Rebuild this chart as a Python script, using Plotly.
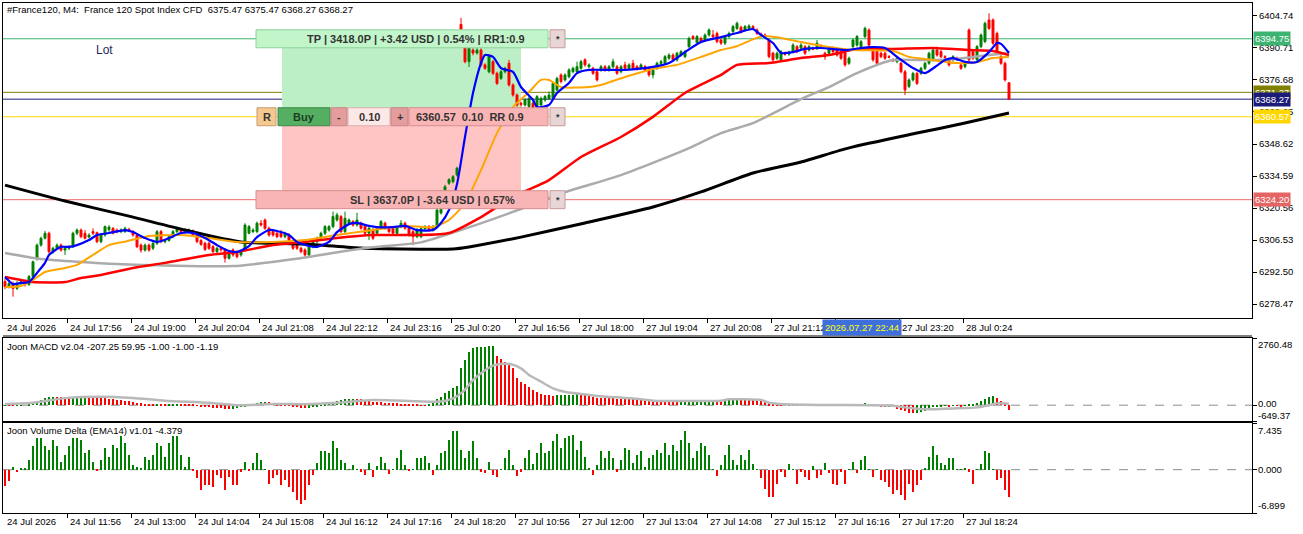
import plotly.graph_objects as go

# ---------------- candles, oldest first (M4) ----------------
opens = [
    6288.3, 6286.1, 6287.5, 6285.3, 6287.5, 6288.3, 6287.0, 6290.5, 6298.5, 6304.3,
    6307.3, 6309.5, 6301.4, 6302.9, 6304.3, 6302.1, 6302.9, 6303.6, 6309.5, 6310.9,
    6309.5, 6307.8, 6310.2, 6309.7, 6305.8, 6308.7, 6311.0, 6311.6, 6310.9, 6310.2,
    6310.2, 6311.2, 6310.2, 6308.7, 6304.3, 6302.1, 6304.3, 6302.9, 6305.1, 6310.2,
    6305.8, 6306.3, 6308.0, 6310.2, 6311.2, 6310.2, 6310.6, 6310.6, 6308.7, 6306.3,
    6305.1, 6305.1, 6303.6, 6301.4, 6302.9, 6302.2, 6298.5, 6302.2, 6300.7, 6300.0,
    6302.2, 6309.5, 6310.2, 6310.2, 6313.9, 6315.3, 6311.7, 6310.2, 6309.5, 6309.5,
    6308.0, 6308.7, 6305.1, 6304.3, 6302.9, 6302.2, 6300.0, 6303.6, 6305.8, 6307.3,
    6309.5, 6310.9, 6312.4, 6315.3, 6316.8, 6310.2, 6313.9, 6314.6, 6313.1, 6313.9,
    6312.4, 6309.5, 6310.9, 6309.5, 6311.7, 6313.9, 6311.7, 6311.7, 6309.5, 6312.4,
    6313.9, 6311.7, 6310.2, 6308.0, 6308.0, 6311.5, 6312.4, 6310.9, 6312.2, 6318.4,
    6328.5, 6331.4, 6332.1, 6335.0, 6401.0, 6390.6, 6384.7, 6389.8, 6388.5, 6389.8,
    6383.3, 6380.3, 6384.7, 6379.6, 6377.4, 6380.3, 6384.0, 6374.5, 6370.1, 6366.5,
    6365.7, 6365.0, 6366.5, 6365.0, 6365.7, 6367.9, 6368.6, 6368.6, 6372.3, 6378.9,
    6376.7, 6378.1, 6380.3, 6380.3, 6381.8, 6385.5, 6382.5, 6381.8, 6380.3, 6381.1,
    6382.5, 6381.1, 6382.5, 6382.5, 6380.3, 6383.3, 6381.8, 6384.0, 6382.5, 6381.8,
    6382.5, 6381.8, 6378.9, 6381.8, 6384.0, 6384.0, 6386.2, 6387.6, 6385.5, 6387.6,
    6386.9, 6391.3, 6395.7, 6393.0, 6394.9, 6394.2, 6396.4, 6396.4, 6397.1, 6394.2,
    6392.8, 6395.7, 6397.9, 6399.3, 6399.8, 6398.6, 6399.3, 6400.1, 6398.6, 6396.8,
    6396.4, 6394.2, 6388.4, 6386.2, 6385.5, 6388.4, 6388.0, 6389.1, 6391.3, 6390.6,
    6391.3, 6389.8, 6390.6, 6390.6, 6391.6, 6388.4, 6388.4, 6390.6, 6389.8, 6389.1,
    6389.8, 6384.0, 6391.3, 6392.0, 6391.3, 6395.7, 6398.6, 6389.8, 6389.8, 6388.4,
    6388.4, 6386.9, 6385.5, 6384.7, 6384.0, 6380.3, 6373.8, 6376.7, 6379.6, 6379.6,
    6381.8, 6384.0, 6385.5, 6389.8, 6389.1, 6386.9, 6385.5, 6385.5, 6386.2, 6383.3,
    6382.5, 6398.6, 6389.1, 6385.5, 6391.3, 6393.5, 6403.0, 6403.0, 6397.1, 6386.9,
    6384.0, 6375.47,
]
highs = [
    6289.5, 6288.5, 6288.3, 6288.5, 6289.5, 6289.0, 6291.2, 6297.5, 6305.0, 6308.0,
    6310.5, 6310.2, 6303.6, 6305.0, 6305.0, 6303.6, 6304.3, 6310.2, 6311.6, 6311.6,
    6310.9, 6309.5, 6311.6, 6310.2, 6309.5, 6312.9, 6313.0, 6312.2, 6311.6, 6311.6,
    6312.4, 6311.9, 6310.9, 6309.0, 6305.0, 6305.0, 6305.0, 6305.8, 6310.9, 6310.9,
    6307.0, 6308.7, 6310.9, 6312.4, 6311.9, 6311.6, 6311.6, 6311.2, 6309.0, 6307.0,
    6305.8, 6305.8, 6304.3, 6303.6, 6303.6, 6302.9, 6302.2, 6302.9, 6301.4, 6302.2,
    6313.9, 6313.1, 6311.7, 6314.6, 6315.3, 6316.0, 6312.4, 6310.9, 6310.2, 6310.9,
    6310.2, 6309.5, 6305.8, 6305.1, 6303.6, 6302.9, 6304.3, 6306.5, 6308.0, 6310.2,
    6313.1, 6313.1, 6319.0, 6318.5, 6317.5, 6319.0, 6316.0, 6315.3, 6318.5, 6314.6,
    6313.1, 6312.4, 6311.7, 6312.4, 6315.3, 6314.6, 6312.4, 6312.4, 6312.8, 6315.3,
    6314.6, 6312.4, 6310.9, 6311.7, 6312.4, 6313.1, 6313.1, 6313.1, 6320.4, 6321.0,
    6330.7, 6333.6, 6335.0, 6338.7, 6403.9, 6391.3, 6391.3, 6390.6, 6390.6, 6390.6,
    6384.0, 6387.6, 6385.5, 6380.3, 6381.1, 6382.5, 6385.5, 6375.2, 6370.8, 6367.2,
    6368.6, 6369.4, 6367.2, 6370.1, 6369.4, 6370.1, 6371.6, 6375.9, 6378.1, 6379.6,
    6379.6, 6381.8, 6382.5, 6384.7, 6385.5, 6386.2, 6384.0, 6382.5, 6381.1, 6383.3,
    6383.3, 6383.3, 6386.0, 6383.3, 6383.3, 6384.7, 6384.0, 6385.5, 6383.3, 6384.0,
    6383.3, 6382.5, 6381.8, 6384.7, 6385.5, 6387.6, 6388.4, 6388.4, 6389.1, 6389.8,
    6389.8, 6395.7, 6396.4, 6396.4, 6395.7, 6397.1, 6399.3, 6398.6, 6397.9, 6394.9,
    6396.4, 6397.9, 6400.8, 6402.3, 6400.5, 6400.8, 6401.1, 6400.8, 6399.3, 6397.5,
    6397.1, 6394.9, 6389.1, 6389.1, 6389.8, 6389.1, 6389.5, 6392.8, 6392.0, 6392.8,
    6392.0, 6392.0, 6391.3, 6394.2, 6392.3, 6389.1, 6391.3, 6391.3, 6390.6, 6389.8,
    6390.6, 6386.9, 6394.9, 6396.4, 6394.2, 6400.1, 6399.3, 6390.6, 6390.6, 6389.1,
    6389.1, 6387.6, 6386.2, 6386.9, 6384.7, 6381.1, 6377.4, 6380.3, 6380.3, 6382.5,
    6384.7, 6389.1, 6390.6, 6391.3, 6389.8, 6387.6, 6386.2, 6387.6, 6386.9, 6384.0,
    6384.7, 6399.3, 6389.8, 6392.0, 6397.1, 6402.3, 6405.9, 6403.7, 6397.9, 6387.6,
    6384.7, 6375.47,
]
lows = [
    6285.0, 6285.3, 6281.7, 6284.6, 6286.8, 6286.1, 6286.5, 6290.0, 6297.5, 6303.6,
    6306.8, 6300.7, 6300.5, 6302.4, 6301.4, 6300.0, 6302.1, 6303.0, 6308.7, 6307.3,
    6306.8, 6307.3, 6308.7, 6305.1, 6305.1, 6308.0, 6310.2, 6309.0, 6309.5, 6309.5,
    6309.7, 6310.0, 6308.0, 6303.0, 6301.0, 6301.4, 6301.4, 6302.1, 6304.3, 6305.1,
    6305.1, 6305.8, 6307.3, 6309.5, 6309.5, 6309.5, 6310.0, 6308.0, 6305.1, 6304.0,
    6301.7, 6302.2, 6300.7, 6300.7, 6301.4, 6296.6, 6298.0, 6299.2, 6298.5, 6299.2,
    6301.4, 6309.0, 6309.5, 6309.5, 6312.4, 6311.0, 6308.0, 6308.0, 6307.3, 6307.3,
    6307.3, 6305.8, 6302.2, 6302.2, 6300.7, 6299.2, 6299.2, 6302.9, 6305.1, 6306.5,
    6308.7, 6310.2, 6311.7, 6314.6, 6309.5, 6309.5, 6313.1, 6312.4, 6312.4, 6311.0,
    6308.7, 6306.5, 6306.5, 6308.7, 6311.0, 6311.0, 6309.5, 6308.7, 6308.7, 6311.7,
    6311.0, 6308.0, 6304.3, 6307.3, 6307.3, 6310.9, 6310.2, 6310.2, 6311.7, 6317.7,
    6327.8, 6330.7, 6331.4, 6334.3, 6397.8, 6384.0, 6382.4, 6387.5, 6387.8, 6382.5,
    6381.1, 6379.6, 6378.9, 6374.5, 6376.7, 6379.6, 6373.8, 6369.4, 6365.0, 6365.0,
    6365.0, 6364.3, 6363.6, 6364.3, 6365.0, 6367.2, 6367.9, 6367.9, 6371.6, 6375.2,
    6376.0, 6377.4, 6379.6, 6379.6, 6381.1, 6382.5, 6381.8, 6378.9, 6376.0, 6380.3,
    6380.3, 6380.3, 6381.8, 6378.9, 6379.6, 6381.1, 6381.1, 6381.1, 6380.8, 6381.1,
    6380.3, 6378.1, 6377.4, 6381.1, 6383.3, 6383.3, 6385.5, 6384.7, 6384.7, 6386.9,
    6386.2, 6390.6, 6394.2, 6392.8, 6392.8, 6393.5, 6395.7, 6394.9, 6392.8, 6392.0,
    6392.0, 6394.9, 6397.1, 6398.6, 6397.1, 6397.9, 6398.6, 6398.6, 6396.4, 6395.7,
    6395.3, 6386.2, 6384.7, 6385.5, 6384.7, 6387.3, 6387.3, 6388.4, 6388.4, 6389.8,
    6387.6, 6389.1, 6389.8, 6389.8, 6390.2, 6385.5, 6387.6, 6388.4, 6386.9, 6385.5,
    6382.5, 6383.3, 6390.6, 6391.3, 6390.6, 6394.9, 6391.3, 6384.7, 6383.3, 6386.2,
    6385.5, 6386.2, 6384.7, 6384.0, 6379.6, 6370.1, 6373.1, 6376.0, 6374.5, 6378.9,
    6381.1, 6383.3, 6384.7, 6386.9, 6386.2, 6385.8, 6382.5, 6384.7, 6385.1, 6381.1,
    6381.8, 6384.7, 6385.5, 6384.7, 6390.6, 6392.8, 6398.6, 6392.0, 6387.6, 6383.3,
    6376.0, 6368.27,
]
closes = [
    6286.1, 6287.5, 6285.3, 6287.5, 6288.3, 6287.0, 6290.5, 6297.0, 6304.3, 6307.3,
    6309.5, 6301.4, 6302.9, 6304.3, 6302.1, 6302.9, 6303.6, 6309.5, 6310.9, 6308.0,
    6307.3, 6308.7, 6309.5, 6305.8, 6308.7, 6312.4, 6312.2, 6309.5, 6310.2, 6310.9,
    6311.6, 6310.6, 6308.7, 6303.6, 6302.1, 6304.3, 6302.1, 6305.1, 6310.2, 6305.8,
    6306.3, 6308.0, 6310.2, 6311.6, 6310.2, 6310.9, 6310.9, 6308.7, 6305.8, 6304.6,
    6302.4, 6302.9, 6301.4, 6302.9, 6302.2, 6298.5, 6301.4, 6300.0, 6299.2, 6301.4,
    6313.1, 6312.4, 6310.9, 6313.9, 6313.1, 6311.7, 6308.7, 6308.7, 6308.0, 6308.0,
    6309.5, 6306.5, 6302.9, 6302.9, 6301.4, 6300.0, 6303.6, 6305.8, 6307.3, 6309.5,
    6312.4, 6312.4, 6316.8, 6317.5, 6310.2, 6316.0, 6315.3, 6313.1, 6315.3, 6311.7,
    6309.5, 6311.7, 6307.3, 6311.7, 6314.6, 6311.7, 6310.2, 6309.5, 6312.1, 6313.9,
    6311.7, 6308.7, 6308.0, 6310.9, 6311.5, 6312.4, 6310.9, 6312.2, 6319.7, 6320.0,
    6329.9, 6333.0, 6334.3, 6338.0, 6398.6, 6384.7, 6390.6, 6388.5, 6389.8, 6383.3,
    6381.8, 6386.9, 6379.6, 6375.2, 6380.3, 6381.8, 6374.5, 6370.1, 6365.7, 6366.0,
    6367.9, 6368.6, 6364.3, 6369.4, 6368.6, 6369.4, 6370.1, 6375.2, 6377.4, 6376.0,
    6378.9, 6381.1, 6381.8, 6382.5, 6384.7, 6383.3, 6383.3, 6379.6, 6376.7, 6382.5,
    6381.1, 6382.5, 6384.7, 6379.6, 6382.5, 6381.8, 6383.3, 6381.8, 6381.4, 6383.3,
    6381.0, 6378.9, 6381.1, 6384.0, 6384.7, 6386.9, 6387.6, 6385.5, 6388.4, 6389.1,
    6389.1, 6394.9, 6394.9, 6395.7, 6393.5, 6396.4, 6398.6, 6395.7, 6393.5, 6392.8,
    6395.7, 6397.1, 6400.1, 6401.5, 6397.9, 6400.1, 6400.4, 6399.3, 6397.1, 6396.4,
    6396.0, 6386.9, 6385.5, 6388.4, 6389.1, 6388.0, 6388.8, 6392.0, 6389.1, 6392.0,
    6388.4, 6391.3, 6390.2, 6392.8, 6391.0, 6386.9, 6390.6, 6389.1, 6387.6, 6386.2,
    6383.3, 6386.2, 6394.2, 6395.7, 6393.5, 6399.3, 6392.0, 6385.5, 6384.0, 6386.9,
    6386.2, 6386.6, 6385.1, 6386.2, 6380.3, 6372.3, 6376.7, 6379.6, 6375.2, 6381.8,
    6384.0, 6388.4, 6389.8, 6387.6, 6386.9, 6386.5, 6383.3, 6386.9, 6385.8, 6381.8,
    6384.0, 6385.5, 6386.2, 6391.3, 6396.4, 6401.5, 6399.3, 6392.8, 6388.4, 6384.0,
    6376.7, 6368.27,
]

# ---------------- moving averages, read at knot bars ----------------
ma_fast_bars = [0, 2, 4, 6, 8, 10, 11, 14, 16, 18, 21, 23, 26, 30, 32, 35, 38, 41, 44, 47,
                50, 53, 56, 58, 61, 63, 66, 68, 71, 73, 76, 78, 81, 83, 86, 88, 91, 93, 97, 100,
                103, 107, 109, 111, 113, 115, 117, 119, 120, 122, 124, 127, 129, 132, 133, 136,
                138, 141, 143, 146, 151, 155, 162, 166, 170, 174, 179, 183, 187, 189, 192, 194,
                197, 200, 204, 210, 216, 220, 223, 227, 230, 233, 235, 237, 240, 243, 246, 248,
                249, 251]
ma_fast = [6290.3, 6287.2, 6287.7, 6288.1, 6292.1, 6296.5, 6300.0, 6303.5, 6303.5, 6304.3,
           6306.5, 6308.7, 6309.6, 6310.9, 6310.0, 6307.4, 6305.7, 6307.4, 6309.6, 6309.6,
           6307.4, 6304.3, 6301.7, 6301.3, 6303.9, 6307.8, 6310.9, 6310.5, 6308.7, 6305.7,
           6303.9, 6303.5, 6305.7, 6310.0, 6313.5, 6314.0, 6312.7, 6312.2, 6312.2, 6312.7,
           6310.9, 6310.9, 6314.0, 6319.7, 6331.0, 6351.7, 6371.0, 6384.1, 6387.6, 6386.8,
           6381.9, 6380.2, 6373.6, 6367.9, 6364.8, 6365.7, 6371.0, 6375.4, 6379.7, 6381.1,
           6381.1, 6381.1, 6382.4, 6384.1, 6388.9, 6393.3, 6395.5, 6397.3, 6399.0, 6396.4,
           6392.9, 6388.5, 6388.9, 6390.3, 6390.7, 6389.8, 6391.1, 6390.7, 6386.8, 6381.9,
           6379.7, 6383.0, 6385.4, 6386.3, 6384.6, 6384.6, 6388.9, 6392.9, 6392.5, 6388.5]

ma_mid_bars = [0, 4, 7, 10, 15, 18, 22, 26, 30, 36, 44, 51, 58, 67, 75, 83, 92, 100, 107, 111,
               115, 119, 123, 127, 131, 134, 136, 139, 146, 149, 155, 162, 168, 174, 179, 183,
               187, 190, 194, 199, 206, 212, 222, 226, 230, 238, 243, 247, 251]
ma_mid = [6285.9, 6286.4, 6289.0, 6292.5, 6294.3, 6295.6, 6300.0, 6304.3, 6305.8, 6308.3,
          6308.7, 6307.4, 6305.7, 6305.7, 6306.5, 6308.7, 6310.9, 6312.7, 6312.2, 6315.3,
          6322.8, 6337.2, 6353.4, 6364.8, 6371.4, 6376.7, 6376.7, 6373.6, 6373.6, 6374.5,
          6378.0, 6381.5, 6383.3, 6386.8, 6389.8, 6391.5, 6394.5, 6396.0, 6395.1, 6393.3,
          6391.1, 6389.8, 6389.4, 6386.8, 6385.9, 6384.1, 6384.6, 6386.3, 6386.8]

ma_slow_bars = [0, 4, 7, 15, 19, 24, 32, 40, 51, 58, 67, 75, 83, 92, 103, 111, 119, 127, 136,
                144, 154, 162, 170, 179, 183, 191, 199, 206, 213, 222, 232, 241, 247, 251]
ma_slow = [6290.3, 6289.0, 6288.1, 6288.1, 6289.9, 6291.2, 6294.3, 6296.5, 6300.0, 6301.3,
           6304.3, 6305.7, 6307.4, 6308.7, 6308.7, 6309.6, 6316.6, 6325.4, 6332.8, 6342.9,
           6351.7, 6360.5, 6371.0, 6378.9, 6383.3, 6384.1, 6386.3, 6387.6, 6390.3, 6390.3,
           6390.7, 6389.8, 6389.4, 6387.6]

ma_long_bars = [0, 9, 28, 57, 74, 90, 104, 115, 128, 140, 154, 170, 179, 187, 199, 206, 213,
                222, 230, 238, 246, 251]
ma_long = [6300.8, 6298.2, 6296.0, 6295.1, 6298.6, 6303.0, 6305.5, 6311.5, 6319.5, 6327.5,
           6335.0, 6346.0, 6353.4, 6357.8, 6368.3, 6373.6, 6379.7, 6385.4, 6385.4, 6385.9,
           6387.6, 6388.5]

ma_trend_bars = [0, 15, 31, 45, 59, 75, 89, 99, 112, 116, 129, 145, 162, 174, 187, 199, 211,
                 228, 240, 251]
ma_trend = [6330.6, 6323.6, 6317.0, 6310.9, 6305.7, 6304.8, 6303.0, 6302.6, 6302.6, 6303.5,
            6307.8, 6314.0, 6321.0, 6327.6, 6335.9, 6340.7, 6346.9, 6353.4, 6357.8, 6362.2]

# ---------------- Joon MACD ----------------
macd_hist = [
    -20, -25, -30, -30, -20, 0, 40, 100, 180, 230,
    290, 320, 340, 335, 325, 320, 318, 330, 350, 365,
    368, 360, 345, 320, 300, 290, 270, 250, 225, 200,
    180, 160, 135, 105, 80, 60, 40, 35, 45, 30,
    20, 22, 30, 35, 28, 25, 20, 10, -10, -40,
    -70, -80, -100, -110, -130, -150, -160, -140, -120, -90,
    -40, 20, 60, 100, 120, 130, 120, 100, 70, 40,
    10, -20, -50, -80, -100, -110, -100, -80, -50, -10,
    40, 90, 140, 190, 220, 240, 260, 270, 265, 250,
    200, 170, 150, 130, 120, 110, 90, 80, 70, 65,
    55, 45, 30, 20, -10, -20, 10, 80, 250, 350,
    500, 590, 710, 790, 1530, 1860, 2200, 2360, 2400, 2405,
    2410, 2415, 2420, 2030, 1900, 1790, 1650, 1515, 1130, 965,
    858, 760, 624, 555, 448, 420, 400, 392, 400, 410,
    415, 420, 430, 440, 420, 400, 380, 340, 315, 300,
    290, 285, 280, 275, 270, 265, 262, 255, 245, 235,
    225, 210, 195, 185, 180, 178, 175, 172, 170, 172,
    175, 185, 190, 195, 200, 205, 210, 210, 205, 200,
    210, 220, 230, 235, 230, 225, 220, 210, 190, 160,
    120, 70, 30, 10, 5, 0, -5, 10, 5, 0,
    5, 10, 5, 10, 0, -10, -5, 0, -10, -20,
    -20, 10, 20, 30, 40, 70, 40, 10, -20, -40,
    -60, -60, -90, -140, -190, -250, -300, -340, -320, -280,
    -220, -150, -90, -60, -40, -30, -40, -20, -30, -50,
    -30, 10, 40, 90, 160, 250, 330, 360, 280, 180,
    60, -207.25,
]
macd_signal_bars = [0, 7, 15, 24, 32, 40, 51, 58, 67, 75, 83, 92, 103, 109, 112, 114.5, 117,
                    119.5, 122, 124.5, 126.5, 129, 131, 134, 137, 140.5, 144, 148, 152.5, 155,
                    159, 162, 179, 181, 189, 191, 195, 206, 222, 225, 230, 238, 243, 246, 248,
                    251]
macd_signal = [50, 100, 290, 350, 295, 185, 100, 0, 50, 40, 100, 210, 160, 150, 280, 555, 1035,
               1376, 1623, 1705, 1680, 1515, 1240, 965, 694, 530, 460, 378, 324, 300,
               242, 185, 185, 242, 214, 103, 37, 8, -20, -90, -170, -130, -90, 0, 75,
               59.95]

# ---------------- Joon Volume Delta ----------------
vol_delta = [
    -2.6, -1.8, 0.4, -0.4, 0.3, 0.3, 1.6, 3.7, 5.0, 5.0,
    3.7, 3.2, 4.8, 3.7, 1.3, 2.4, 3.7, 5.0, 5.0, 4.8,
    2.7, 3.2, 1.3, -0.1, 1.6, 3.5, 2.1, 4.0, 3.5, 5.3,
    4.2, 2.4, 0.8, 0.5, 0.3, 2.1, 1.6, 2.4, 4.2, 3.7,
    2.1, 4.2, 5.3, 5.3, 2.4, 0.5, 2.1, -0.1, -1.3, -3.2,
    -2.4, -2.4, -2.7, -0.85, -1.4, -3.2, -1.1, -2.4, -2.4, -0.3,
    1.3, -0.1, 1.0, 2.6, 1.5, 0.1, -2.2, -1.4, -0.85, -2.4,
    -1.6, -2.7, -3.5, -4.8, -5.4, -4.8, -2.4, -0.85, 1.0, 2.9,
    2.9, 2.6, 4.5, 3.4, 1.5, 1.0, 0.1, 0.7, 0.1, -0.3,
    -0.85, 1.0, -1.1, 0.6, 2.1, 1.0, -0.7, 0.1, 1.8, 3.1,
    0.7, -0.2, 0.1, 1.8, 1.8, 2.2, 1.0, -0.85, 0.7, 2.6,
    2.9, 4.7, 6.1, 6.2, 3.2, 1.8, 2.9, 4.5, 1.8, -0.3,
    -0.6, 1.3, -0.85, -1.1, 0.1, 1.8, 3.1, 0.7, -1.0, -0.3,
    1.8, 3.1, 0.9, 2.6, 4.2, 2.6, 2.9, 4.5, 5.7, 3.4,
    5.0, 5.4, 5.5, 3.1, 4.5, 2.1, 0.2, -0.85, 0.7, 2.9,
    1.8, 2.9, 1.8, -0.3, 1.5, 3.4, 3.1, 1.0, 2.3, 2.9,
    0.5, 1.8, 2.3, 3.1, 2.6, 4.2, 2.3, 3.9, 2.9, 4.7,
    6.1, 4.2, 1.8, 2.9, 4.3, 3.7, 2.3, 0.1, -1.0, 0.7,
    2.3, 3.9, 1.5, 0.7, 2.4, 1.5, 3.1, 0.9, 0.1, -1.4,
    -3.0, -4.4, -4.3, -2.2, -0.3, -1.1, 0.9, 0.1, -2.2, -0.3,
    -1.1, -1.6, 0.6, -1.4, -0.85, 1.0, -0.6, -2.2, -2.4, -0.3,
    -2.2, 0.1, 1.3, -0.6, 1.5, 2.2, 0.1, -1.1, 0.1, -1.6,
    -1.9, -2.7, -3.8, -3.2, -4.0, -4.9, -2.2, -3.5, -2.4, -1.6,
    0.2, 2.1, 3.7, 2.3, 1.1, 0.7, 1.8, 1.8, 0.1, 0.1,
    0.2, -0.3, -2.2, 0.1, 0.9, 2.9, 2.6, 0.1, -1.6, -1.4,
    -3.2, -4.379,
]

# ---------------- levels ----------------
tp_price = 6394.75
ask_price = 6371.27
bid_price = 6368.27
entry_price = 6360.57
sl_price = 6324.20

price_ticks = [6404.74, 6390.71, 6376.68, 6362.65, 6348.62, 6334.59, 6320.56, 6306.53, 6292.50, 6278.47]
main_range = [6272.34, 6410.43]
macd_range = [-649.37, 2760.48]
vol_range = [-6.899, 7.435]

# the label under the crosshair time tag is hidden in the terminal (None)
top_time_labels = ["24 Jul 2026", "24 Jul 17:56", "24 Jul 19:00", "24 Jul 20:04", "24 Jul 21:08",
                   "24 Jul 22:12", "24 Jul 23:16", "25 Jul 0:20", "27 Jul 16:56", "27 Jul 18:00",
                   "27 Jul 19:04", "27 Jul 20:08", "27 Jul 21:12", None, "27 Jul 23:20",
                   "28 Jul 0:24"]
bottom_time_labels = ["24 Jul 2026", "24 Jul 11:56", "24 Jul 13:00", "24 Jul 14:04", "24 Jul 15:08",
                      "24 Jul 16:12", "24 Jul 17:16", "24 Jul 18:20", "27 Jul 10:56", "27 Jul 12:00",
                      "27 Jul 13:04", "27 Jul 14:08", "27 Jul 15:12", "27 Jul 16:16", "27 Jul 17:20",
                      "27 Jul 18:24"]
crosshair_time = "2026.07.27 22:44"

# ---------------- geometry (window pixels) ----------------
FONT = "Liberation Sans, Arial, sans-serif"
UP, DOWN = "#008000", "#FF0000"
W, H = 1303, 534
PL, PR, PT, PB = 3, 1252, 3, 513
X_MIN = -0.5
X_MAX = X_MIN + (PR - PL) / 4.0          # 4 px per bar
PRICE_PER_PX = (main_range[1] - main_range[0]) / 315.0
ROW_H = 9 * PRICE_PER_PX


def paper_x(px):
    return (px - PL) / (PR - PL)


def paper_y(py):
    return (PB - py) / (PB - PT)


def bar_at(px):
    return X_MIN + (px - PL) / 4.0


bars = list(range(len(closes)))
nbsp = "\u00a0"

fig = go.Figure()

fig.add_trace(go.Candlestick(
    x=bars, open=opens, high=highs, low=lows, close=closes,
    increasing=dict(line=dict(color=UP, width=1), fillcolor=UP),
    decreasing=dict(line=dict(color=DOWN, width=1), fillcolor=DOWN),
    whiskerwidth=0, hoverinfo="skip", xaxis="x", yaxis="y"))

for xs, ys, color, width in [
    (ma_trend_bars, ma_trend, "#000000", 3),
    (ma_long_bars, ma_long, "#ABABAB", 2.5),
    (ma_slow_bars, ma_slow, "#FF0000", 2.5),
    (ma_mid_bars, ma_mid, "#FFA500", 2),
    (ma_fast_bars, ma_fast, "#0000FF", 2.2),
]:
    fig.add_trace(go.Scatter(x=xs, y=ys, mode="lines", hoverinfo="skip",
                             line=dict(color=color, width=width, shape="spline", smoothing=0.6),
                             xaxis="x", yaxis="y"))

macd_colors = [UP if i == 0 or v >= macd_hist[i - 1] else DOWN for i, v in enumerate(macd_hist)]
fig.add_trace(go.Bar(x=bars, y=macd_hist, width=0.5, marker=dict(color=macd_colors, line=dict(width=0)),
                     hoverinfo="skip", xaxis="x2", yaxis="y2"))
fig.add_trace(go.Scatter(x=macd_signal_bars, y=macd_signal, mode="lines", hoverinfo="skip",
                         line=dict(color="#B9B9B9", width=2.5, shape="spline", smoothing=0.6),
                         xaxis="x2", yaxis="y2"))

vol_colors = [UP if v >= 0 else DOWN for v in vol_delta]
fig.add_trace(go.Bar(x=bars, y=vol_delta, width=0.5, marker=dict(color=vol_colors, line=dict(width=0)),
                     hoverinfo="skip", xaxis="x3", yaxis="y3"))

# ---------------- shapes ----------------
shapes = []
# trade zones (behind candles)
shapes.append(dict(type="rect", xref="x", yref="y", x0=bar_at(282), x1=bar_at(521),
                   y0=entry_price, y1=tp_price, fillcolor="#BDEFC6", line=dict(width=0), layer="below"))
shapes.append(dict(type="rect", xref="x", yref="y", x0=bar_at(282), x1=bar_at(521),
                   y0=sl_price, y1=entry_price, fillcolor="#FFC4C4", line=dict(width=0), layer="below"))
# price lines
for price, color in [(tp_price, "#3CB371"), (ask_price, "#808000"), (bid_price, "#1C1C78"),
                     (entry_price, "#FFD700"), (sl_price, "#EE6A6A")]:
    shapes.append(dict(type="line", xref="paper", yref="y", x0=0, x1=1, y0=price, y1=price,
                       line=dict(color=color, width=1), layer="below"))
# dashed zero lines in the sub windows
for yr in ("y2", "y3"):
    shapes.append(dict(type="line", xref="paper", yref=yr, x0=0, x1=1, y0=0, y1=0,
                       line=dict(color="#8C8C8C", width=1, dash="dash"), layer="below"))
# separator under the time scale
shapes.append(dict(type="line", xref="paper", yref="paper", x0=0, x1=1,
                   y0=paper_y(336), y1=paper_y(336), line=dict(color="#000000", width=1)))

annotations = []


def box(x0, x1, price, fill, edge):
    shapes.append(dict(type="rect", xref="x", yref="y", x0=bar_at(x0), x1=bar_at(x1),
                       y0=price - ROW_H, y1=price + ROW_H, fillcolor=fill,
                       line=dict(color=edge, width=1), layer="above"))


def label(xpx, price, text, color="#333333", size=11, anchor="center"):
    annotations.append(dict(xref="x", yref="y", x=bar_at(xpx), y=price, text=text, showarrow=False,
                            xanchor=anchor, yanchor="middle",
                            font=dict(family=FONT, size=size, color=color)))


# trade panel
box(256, 548, tp_price, "#C2F5C9", "#8ED29A")
box(550, 565, tp_price, "#E8D6D6", "#C79A9A")
label(416, tp_price, "<b>TP | 3418.0P | +3.42 USD | 0.54% | RR1:0.9</b>")
label(557.5, tp_price, "<b>*</b>", size=9)

box(257, 276, entry_price, "#F5C88F", "#C99D70")
box(278, 330, entry_price, "#55AE62", "#3F8A4A")
box(331, 347, entry_price, "#E59C9C", "#C98585")
box(348, 390, entry_price, "#FDE8E8", "#D9B0B0")
box(391, 408, entry_price, "#E59C9C", "#C98585")
box(409, 548, entry_price, "#F9B5B5", "#D58D8D")
box(550, 565, entry_price, "#E8D6D6", "#C79A9A")
label(266.5, entry_price, "<b>R</b>")
label(304, entry_price, "<b>Buy</b>", color="#1E3F22")
label(339, entry_price, "<b>-</b>")
label(369, entry_price, "<b>0.10</b>")
label(399.5, entry_price, "<b>+</b>")
label(414, entry_price, "<b>6360.57" + nbsp * 2 + "0.10" + nbsp * 2 + "RR 0.9</b>", anchor="left")
label(557.5, entry_price, "<b>*</b>", size=9)

box(256, 548, sl_price, "#F9B5B5", "#D58D8D")
box(550, 565, sl_price, "#E8D6D6", "#C79A9A")
label(432, sl_price, "<b>SL | 3637.0P | -3.64 USD | 0.57%</b>")
label(557.5, sl_price, "<b>*</b>", size=9)

# texts in the panes
annotations.append(dict(xref="paper", yref="paper", x=paper_x(5), y=paper_y(10), xanchor="left",
                        yanchor="middle", showarrow=False,
                        text="#France120, M4:" + nbsp * 2 + "France 120 Spot Index CFD" + nbsp * 2
                             + "6375.47 6375.47 6368.27 6368.27",
                        font=dict(family=FONT, size=9.5, color="#000000")))
annotations.append(dict(xref="paper", yref="paper", x=paper_x(94), y=paper_y(50), xanchor="left",
                        yanchor="middle", showarrow=False, text="Lot",
                        font=dict(family=FONT, size=12, color="#1F2B5C")))
annotations.append(dict(xref="paper", yref="paper", x=paper_x(5), y=paper_y(346), xanchor="left",
                        yanchor="middle", showarrow=False,
                        text="Joon MACD v2.04 -207.25 59.95 -1.00 -1.00 -1.19",
                        font=dict(family=FONT, size=9.5, color="#000000")))
annotations.append(dict(xref="paper", yref="paper", x=paper_x(5), y=paper_y(430), xanchor="left",
                        yanchor="middle", showarrow=False,
                        text="Joon Volume Delta (EMA14) v1.01 -4.379",
                        font=dict(family=FONT, size=9.5, color="#000000")))

# right-hand price tags
for price, text, bg in [(tp_price, "6394.75", "#3CB371"), (ask_price, "6371.27", "#808000"),
                        (bid_price, "6368.27", "#1C1C78"), (entry_price, "6360.57", "#FFD700"),
                        (sl_price, "6324.20", "#E56464")]:
    annotations.append(dict(xref="paper", yref="y", x=1, y=price, xanchor="left", yanchor="middle",
                            xshift=1, showarrow=False, text=text, bgcolor=bg, borderpad=1,
                            font=dict(family=FONT, size=9.5, color="#FFFFFF")))

# sub-window scale labels
for yr, val, text, anchor, dy in [("y2", macd_range[1], "2760.48", "top", 1),
                                  ("y2", 0, "0.00", "middle", 2),
                                  ("y2", macd_range[0], "-649.37", "bottom", -2),
                                  ("y3", vol_range[1], "7.435", "top", 0),
                                  ("y3", 0, "0.000", "middle", 0),
                                  ("y3", vol_range[0], "-6.899", "bottom", 0)]:
    annotations.append(dict(xref="paper", yref=yr, x=1, y=val, xanchor="left", yanchor=anchor,
                            xshift=4, yshift=dy, showarrow=False, text=text,
                            font=dict(family=FONT, size=9.5, color="#000000")))

# time scales
tick_bars = [bar_at(67 + 64 * k) for k in range(15)]
label_bars = [bar_at(4)] + tick_bars
for lbls, py in [(top_time_labels, 327), (bottom_time_labels, 521)]:
    for xb, text in zip(label_bars, lbls):
        if text is None:
            continue
        annotations.append(dict(xref="x", yref="paper", x=xb, y=paper_y(py), xanchor="left",
                                yanchor="middle", xshift=1, showarrow=False, text=text,
                                font=dict(family=FONT, size=9.5, color="#000000")))
annotations.append(dict(xref="paper", yref="paper", x=paper_x(862), y=paper_y(327), xanchor="center",
                        yanchor="middle", showarrow=False, text=crosshair_time,
                        bgcolor="#3F6FDD", borderpad=2,
                        font=dict(family=FONT, size=9.5, color="#FFFF00")))

axis_line = dict(showline=True, linecolor="#000000", linewidth=1, mirror=True,
                 showgrid=False, zeroline=False)

fig.update_layout(
    width=W, height=H, autosize=False,
    margin=dict(l=PL, r=W - PR, t=PT, b=H - PB, pad=0),
    paper_bgcolor="#FFFFFF", plot_bgcolor="#FFFFFF",
    showlegend=False, bargap=0,
    shapes=shapes, annotations=annotations,
    font=dict(family=FONT, size=9.5, color="#000000"),
    xaxis=dict(domain=[0, 1], range=[X_MIN, X_MAX], anchor="y", rangeslider=dict(visible=False),
               ticks="outside", ticklen=4, tickcolor="#000000", tickvals=tick_bars,
               showticklabels=False, **axis_line),
    xaxis2=dict(domain=[0, 1], range=[X_MIN, X_MAX], anchor="y2", matches="x",
                showticklabels=False, ticks="", **axis_line),
    xaxis3=dict(domain=[0, 1], range=[X_MIN, X_MAX], anchor="y3", matches="x",
                ticks="outside", ticklen=4, tickcolor="#000000", tickvals=tick_bars,
                showticklabels=False, **axis_line),
    yaxis=dict(domain=[paper_y(318), 1], range=main_range, side="right", anchor="x",
               ticks="outside", ticklen=4, tickcolor="#000000", tickvals=price_ticks,
               ticktext=["%.2f" % v for v in price_ticks],
               tickfont=dict(family=FONT, size=9.5, color="#000000"), **axis_line),
    yaxis2=dict(domain=[paper_y(421), paper_y(338)], range=macd_range, side="right", anchor="x2",
                ticks="outside", ticklen=4, tickcolor="#000000",
                tickvals=[macd_range[1], 0, macd_range[0]], showticklabels=False, **axis_line),
    yaxis3=dict(domain=[0, paper_y(423)], range=vol_range, side="right", anchor="x3",
                ticks="outside", ticklen=4, tickcolor="#000000",
                tickvals=[vol_range[1], 0, vol_range[0]], showticklabels=False, **axis_line),
)

fig.write_html("out.html", config={"displayModeBar": False},
               post_script="document.body.style.margin='0';document.body.style.overflow='hidden';")
